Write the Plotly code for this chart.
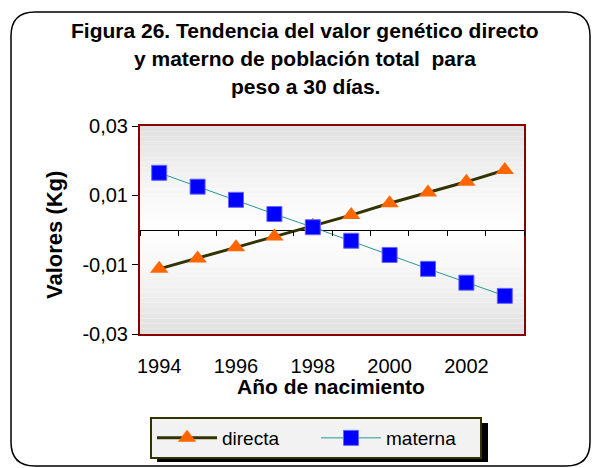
import plotly.graph_objects as go

years = [1994, 1995, 1996, 1997, 1998, 1999, 2000, 2001, 2002, 2003]
directa = [-0.0112, -0.0082, -0.0050, -0.0019, 0.0012, 0.0043, 0.0077, 0.0108, 0.0139, 0.0173]
materna = [0.0165, 0.0125, 0.0087, 0.0046, 0.0008, -0.0031, -0.0072, -0.0112, -0.0152, -0.0190]

y_ticks = [-0.03, -0.01, 0.01, 0.03]
y_ticktext = ["-0,03", "-0,01", "0,01", "0,03"]
x_ticks = [1994, 1996, 1998, 2000, 2002]

title_lines = [
    "Figura 26. Tendencia del valor genético directo",
    "y materno de población total  para",
    "peso a 30 días.",
]

# the page body has an 8px margin, so the figure sits 8px in from the corner
OFF = 8
W, H = 601 - OFF, 468 - OFF
L, R, T, B = 140, 524, 126, 334  # plot area, in page pixels


def px(x):
    return (x - L) / (R - L)


def py(y):
    return (B - y) / (B - T)


FONT = "Liberation Sans, Arial, sans-serif"

fig = go.Figure()

fig.add_trace(
    go.Scatter(
        x=years,
        y=directa,
        name="directa",
        mode="lines+markers",
        line=dict(color="#333300", width=3),
        marker=dict(symbol="triangle-up", size=16, color="#FF6600"),
    )
)
fig.add_trace(
    go.Scatter(
        x=years,
        y=materna,
        name="materna",
        mode="lines+markers",
        line=dict(color="#229999", width=1),
        marker=dict(symbol="square", size=15, color="#0000FF",
                    line=dict(color="#6666ff", width=1)),
    )
)
# invisible trace to carry the tick marks on the zero line
fig.add_trace(
    go.Scatter(x=years, y=directa, xaxis="x2", showlegend=False,
               mode="markers", marker=dict(opacity=0), hoverinfo="skip")
)

shapes = []
# gradient background of the plot area (gray edges, white middle)
n = 40
for i in range(n):
    t = (i + 0.5) / n
    d = abs(t - 0.5) * 2
    g = int(round(254 - 30 * d ** 1.4))
    shapes.append(dict(type="rect", xref="x domain", yref="y domain",
                       x0=0, x1=1, y0=i / n, y1=(i + 1) / n,
                       fillcolor=f"rgb({g},{g},{g})", line=dict(width=0),
                       layer="below"))

# legend shadow
shapes.append(dict(type="rect", xref="paper", yref="paper",
                   x0=px(157), x1=px(488), y0=py(423), y1=py(462),
                   fillcolor="black", line=dict(width=0), layer="below"))

# rounded outer frame
x0, x1, y0, y1, r = 11, 590, 12, 466, 24
path = (
    f"M {px(x0 + r)} {py(y0)} L {px(x1 - r)} {py(y0)} "
    f"Q {px(x1)} {py(y0)} {px(x1)} {py(y0 + r)} "
    f"L {px(x1)} {py(y1 - r)} Q {px(x1)} {py(y1)} {px(x1 - r)} {py(y1)} "
    f"L {px(x0 + r)} {py(y1)} Q {px(x0)} {py(y1)} {px(x0)} {py(y1 - r)} "
    f"L {px(x0)} {py(y0 + r)} Q {px(x0)} {py(y0)} {px(x0 + r)} {py(y0)} Z"
)
shapes.append(dict(type="path", xref="paper", yref="paper", path=path,
                   line=dict(color="black", width=1.5), layer="below"))

annotations = []
for i, line in enumerate(title_lines):
    annotations.append(dict(text=f"<b>{line}</b>", xref="paper", yref="paper",
                            x=px(305), y=py(30 + 28 * i), showarrow=False,
                            xanchor="center", yanchor="middle",
                            font=dict(size=21, color="black", family=FONT)))
annotations.append(dict(text="<b>Valores (Kg)</b>", xref="paper", yref="paper",
                        x=px(54), y=py(235), textangle=-90, showarrow=False,
                        xanchor="center", yanchor="middle",
                        font=dict(size=22, color="black", family=FONT)))
annotations.append(dict(text="<b>Año de nacimiento</b>", xref="paper", yref="paper",
                        x=px(331), y=py(386), showarrow=False,
                        xanchor="center", yanchor="middle",
                        font=dict(size=21, color="black", family=FONT)))

fig.update_layout(
    width=W,
    height=H,
    autosize=False,
    margin=dict(l=L - OFF, r=601 - R, t=T - OFF, b=468 - B, pad=0,
                autoexpand=False),
    paper_bgcolor="white",
    plot_bgcolor="white",
    font=dict(family=FONT, size=20, color="black"),
    showlegend=True,
    legend=dict(
        orientation="h",
        x=px(316), y=py(417), xanchor="center", yanchor="top",
        bgcolor="#f2f2f2", bordercolor="#333300", borderwidth=2,
        font=dict(size=19, family=FONT),
        itemwidth=60, entrywidth=89,
    ),
    xaxis=dict(
        range=[1993.5, 2003.5],
        tickmode="array", tickvals=x_ticks, ticks="",
        showgrid=False, zeroline=False,
        showline=True, mirror=True, linecolor="#8B0000", linewidth=2,
        tickfont=dict(size=20),
        ticklabelstandoff=13,
    ),
    xaxis2=dict(
        range=[1993.5, 2003.5], overlaying="x", anchor="free", position=0.5,
        side="bottom", tickmode="linear", tick0=1994.5, dtick=1,
        ticks="outside", ticklen=5, tickcolor="black", tickwidth=1,
        showticklabels=False, showgrid=False, zeroline=False, showline=False,
    ),
    yaxis=dict(
        range=[-0.03, 0.03],
        tickmode="array", tickvals=y_ticks, ticktext=y_ticktext,
        ticks="outside", ticklen=6, tickcolor="black",
        showgrid=False, zeroline=True, zerolinecolor="black", zerolinewidth=1,
        showline=True, mirror=True, linecolor="#8B0000", linewidth=2,
        tickfont=dict(size=20),
    ),
    shapes=shapes,
    annotations=annotations,
)

fig.write_html("out.html")
